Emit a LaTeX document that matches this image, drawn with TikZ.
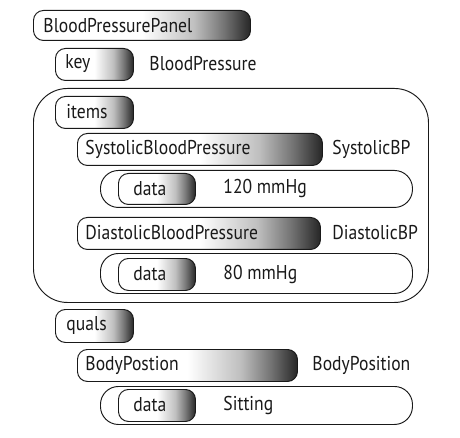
\documentclass[tikz,border=0pt]{standalone}
\usepackage{fontspec}
\setmainfont[FakeStretch=0.88]{PT Sans}
\pgfdeclarehorizontalshading{boxshade}{100bp}{color(0bp)=(white); color(50bp)=(white); color(62bp)=(black!25); color(69bp)=(black!55); color(75bp)=(black!85); color(100bp)=(black!85)}
\begin{document}
\begin{tikzpicture}[x=1pt,y=-1pt,
  line width=0.95pt,
  gbox/.style={draw=black!90, rounded corners=10pt, shading=boxshade, inner sep=0pt, anchor=north west},
  pill/.style={draw=black!90, rounded corners=18pt, inner sep=0pt, anchor=north west},
  frame/.style={draw=black!90, rounded corners=34pt, inner sep=0pt, anchor=north west},
  lbl/.style={text=black!90, inner sep=0pt, anchor=west, font=\fontsize{20}{22}\selectfont}]
\useasboundingbox (0,0) rectangle (460,438);
% top level
\node[gbox, minimum width=217pt, minimum height=30pt] (panel) at (33,10) {};
\node[lbl] (panelt) at (43,25.5) {BloodPressurePanel};
\node[gbox, minimum width=78pt, minimum height=32pt] (key) at (55,48) {};
\node[lbl] (keyt) at (65,64) {key};
\node[lbl] (keyv) at (149,64) {BloodPressure};
% items frame
\node[frame, minimum width=395pt, minimum height=214pt] (frm) at (33,88) {};
\node[gbox, minimum width=78pt, minimum height=32pt] (items) at (55,96) {};
\node[lbl] (itemst) at (66,112) {items};
\node[gbox, minimum width=245pt, minimum height=32pt] (sys) at (77,133) {};
\node[lbl] (syst) at (85,149) {SystolicBloodPressure};
\node[lbl] (sysv) at (332,149) {SystolicBP};
\node[pill, minimum width=312pt, minimum height=37pt] (row1) at (100,170) {};
\node[gbox, minimum width=77pt, minimum height=31pt] (d1) at (118,173) {};
\node[lbl] (d1t) at (133,188.5) {data};
\node[lbl] (d1v) at (223,188.5) {120 mmHg};
\node[gbox, minimum width=243pt, minimum height=32pt] (dia) at (77,217) {};
\node[lbl] (diat) at (85,233) {DiastolicBloodPressure};
\node[lbl] (diav) at (332,233) {DiastolicBP};
\node[pill, minimum width=312pt, minimum height=40pt] (row2) at (100,253) {};
\node[gbox, minimum width=77pt, minimum height=32pt] (d2) at (118,258) {};
\node[lbl] (d2t) at (133,274) {data};
\node[lbl] (d2v) at (223,274) {80 mmHg};
% quals
\node[gbox, minimum width=78pt, minimum height=33pt] (quals) at (55,309) {};
\node[lbl] (qualst) at (66,325.5) {quals};
\node[gbox, minimum width=220pt, minimum height=32pt] (body) at (77,349) {};
\node[lbl] (bodyt) at (85,365) {BodyPostion};
\node[lbl] (bodyv) at (312,365) {BodyPosition};
\node[pill, minimum width=312pt, minimum height=38pt] (row3) at (100,386) {};
\node[gbox, minimum width=77pt, minimum height=32pt] (d3) at (118,389) {};
\node[lbl] (d3t) at (133,405) {data};
\node[lbl] (d3v) at (223,405) {Sitting};
\end{tikzpicture}
\end{document}
